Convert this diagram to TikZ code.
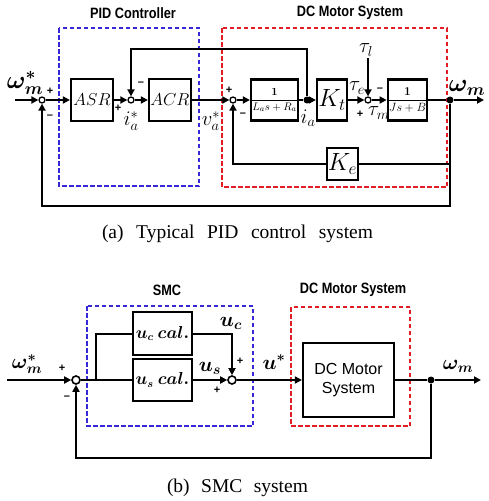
\documentclass[tikz,border=0pt]{standalone}
\usepackage{fontspec}
\usepackage{amsmath,bm}
\setmainfont{Liberation Serif}
\setsansfont{Liberation Sans}
\usetikzlibrary{arrows.meta}
\definecolor{pidblue}{RGB}{55,40,215}
\definecolor{mred}{RGB}{225,30,35}
\begin{document}
\begin{tikzpicture}[x=1pt,y=-1pt,
  sig/.style={line width=2.3pt},
  arr/.style={sig,-{Triangle[length=7pt,width=7pt]}},
  blk/.style={draw,line width=2.2pt,inner sep=0pt,fill=white},
  sumc/.style={circle,draw,line width=1.3pt,fill=white,inner sep=0pt,minimum size=6pt},
  sumb/.style={circle,draw,line width=1.6pt,fill=white,inner sep=0pt,minimum size=8pt},
  jdot/.style={circle,fill,inner sep=0pt,minimum size=7pt},
  ttl/.style={font=\sffamily\bfseries\fontsize{15}{17}\selectfont,inner sep=0pt},
  sgn/.style={font=\sffamily\bfseries\fontsize{11}{11}\selectfont,inner sep=0pt},
  lbl/.style={inner sep=0pt,font=\fontsize{20}{20}\selectfont},
  big/.style={inner sep=0pt,font=\fontsize{23}{23}\selectfont},
  captxt/.style={font=\fontsize{19.5}{21}\selectfont,inner sep=0pt},
  dbox/.style={line width=2pt,dash pattern=on 4.5pt off 2.5pt}
]
\useasboundingbox (0,0) rectangle (488,501);
% ---------- (a) ----------
\draw[dbox,pidblue] (59,28) rectangle (199,186);
\draw[dbox,mred] (222,28) rectangle (447,187);
\node[ttl] (t1) at (133,13) {\scalebox{0.85}[1]{PID Controller}};
\node[ttl] (t2) at (350,13) {\scalebox{0.85}[1]{DC Motor System}};

\coordinate (in1) at (15,100);
\node[sumc] (s1) at (42,100) {};
\node[blk,minimum width=42pt,minimum height=42pt] (asr) at (92,100) {\fontsize{18}{18}\selectfont$ASR$};
\node[sumc] (s2) at (131,100) {};
\node[blk,minimum width=42pt,minimum height=42pt] (acr) at (170,100) {\fontsize{18}{18}\selectfont$ACR$};
\node[sumc] (s3) at (233,100) {};
\node[blk,minimum width=47pt,minimum height=41pt] (g1) at (274.5,100) {\fontsize{11}{11}\selectfont$\dfrac{\bm{1}}{L_a s+R_a}$};
\node[jdot] (ia) at (307,100) {};
\node[blk,minimum width=30pt,minimum height=41pt] (kt) at (332,100) {\fontsize{23}{23}\selectfont$K_t$};
\node[sumc] (s4) at (368,100) {};
\node[blk,minimum width=35pt,minimum height=41pt] (g2) at (407.5,100) {\fontsize{11.5}{11.5}\selectfont$\dfrac{\bm{1}}{Js+B}$};
\node[jdot] (wo) at (450,100) {};
\coordinate (out1) at (484,100);
\node[blk,minimum width=31pt,minimum height=32pt] (ke) at (342.5,164) {\fontsize{23}{23}\selectfont$K_e$};
\coordinate (tl) at (368,58);
\coordinate (ktop) at (307,49);
\coordinate (ktop2) at (131,49);
\coordinate (kew) at (450,164);
\coordinate (kel) at (233,164);
\coordinate (ob1) at (450,206);
\coordinate (ob2) at (42,206);

\draw[arr] (in1) -- (s1);
\draw[arr] (s1) -- (asr);
\draw[arr] (asr) -- (s2);
\draw[arr] (s2) -- (acr);
\draw[arr] (acr) -- (s3);
\draw[arr] (s3) -- (g1);
\draw[sig] (g1) -- (ia);
\draw[arr] (ia) -- (kt);
\draw[arr] (kt) -- (s4);
\draw[arr] (s4) -- (g2);
\draw[sig] (g2) -- (wo);
\draw[arr] (wo) -- (out1);
\draw[arr] (ia) -- (ktop) -- (ktop2) -- (s2);
\draw[arr] (tl) -- (s4);
\draw[sig] (wo) -- (kew) -- (ke);
\draw[arr] (ke) -- (kel) -- (s3);
\draw[arr] (wo) -- (ob1) -- (ob2) -- (s1);

\node[big] (lw1) at (25,83) {$\bm{\omega_m^*}$};
\node[sgn] (p1) at (50,91) {+};
\node[sgn] (m1) at (50,117) {–};
\node[sgn] (m2) at (141,84) {–};
\node[sgn] (p2) at (118,108) {+};
\node[lbl] (lia) at (131,121) {$i_a^*$};
\node[lbl] (lva) at (211,121) {$v_a^*$};
\node[sgn] (p3) at (229,90) {+};
\node[sgn] (m3) at (243,115) {–};
\node[lbl] (lia2) at (308,118) {$i_a$};
\node[lbl] (lte) at (357,88) {$\tau_e$};
\node[lbl] (ltl) at (366,50) {$\tau_l$};
\node[sgn] (m4) at (380,90) {–};
\node[sgn] (p4) at (360,114) {+};
\node[lbl] (ltm) at (379,113) {$\tau_m$};
\node[big] (lwo) at (467,88) {$\bm{\omega_m}$};
\node[captxt] (cap1) at (237.5,234) {\makebox[271pt][s]{(a)\ Typical\ PID\ control\ system}};

% ---------- (b) ----------
\draw[dbox,pidblue] (87,306) rectangle (253,426);
\draw[dbox,mred] (291,307) rectangle (410,426);
\node[ttl] (t3) at (167,290) {\scalebox{0.85}[1]{SMC}};
\node[ttl] (t4) at (353,290) {\scalebox{0.85}[1]{DC Motor System}};

\coordinate (in2) at (7,380);
\node[sumb] (s5) at (76,380) {};
\coordinate (br) at (96,380);
\coordinate (brt) at (96,334);
\node[blk,minimum width=59pt,minimum height=43pt] (uc) at (162.5,333.5) {\fontsize{16}{16}\selectfont$\bm{u_c\ cal.}$};
\node[blk,minimum width=59pt,minimum height=42pt] (us) at (162.5,380) {\fontsize{16}{16}\selectfont$\bm{u_s\ cal.}$};
\node[sumb] (s6) at (232,380) {};
\coordinate (uct) at (232,334);
\node[blk,minimum width=91pt,minimum height=74pt,align=center,font=\sffamily\fontsize{16}{19}\selectfont] (dc) at (348.5,380) {DC Motor\\System};
\node[jdot] (wo2) at (431,380) {};
\coordinate (out2) at (481,380);
\coordinate (fb1) at (431,458);
\coordinate (fb2) at (76,458);

\draw[arr] (in2) -- (s5);
\draw[sig] (s5) -- (us);
\draw[sig] (br) -- (brt) -- (uc.west |- brt);
\draw[arr] (uc.east |- uct) -- (uct) -- (s6);
\draw[arr] (us) -- (s6);
\draw[arr] (s6) -- (dc);
\draw[sig] (dc) -- (wo2);
\draw[arr] (wo2) -- (out2);
\draw[arr] (wo2) -- (fb1) -- (fb2) -- (s5);

\node[big,font=\fontsize{21}{21}\selectfont] (lw2) at (27,364) {$\bm{\omega_m^*}$};
\node[sgn] (p5) at (62,368) {+};
\node[sgn] (m5) at (67,398) {–};
\node[lbl] (luc) at (231,323) {$\bm{u_c}$};
\node[sgn] (p6) at (240,361) {+};
\node[lbl] (lus) at (210,368) {$\bm{u_s}$};
\node[sgn] (p7) at (217,390) {+};
\node[lbl] (lu) at (274,362) {$\bm{u^*}$};
\node[big,font=\fontsize{21}{21}\selectfont] (lwo2) at (458,366) {$\bm{\omega_m}$};
\node[captxt] (cap2) at (237.5,488) {\makebox[141pt][s]{(b)\ SMC\ system}};
\end{tikzpicture}
\end{document}
